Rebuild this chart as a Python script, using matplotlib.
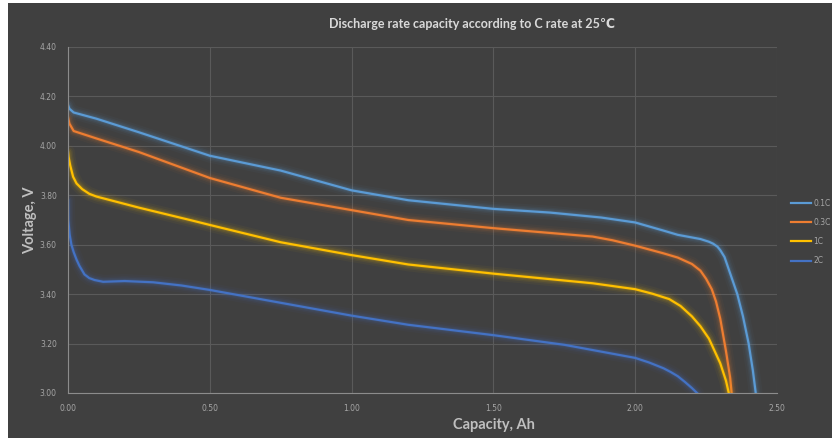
import matplotlib
matplotlib.use("Agg")
import matplotlib.pyplot as plt
from matplotlib.patches import Rectangle

# dados (capacidade Ah, tensao V)
x_01c = [0, 0.005, 0.02, 0.1, 0.25, 0.5, 0.75, 1.0, 1.2, 1.5, 1.7, 1.88, 2.0,
         2.1, 2.15, 2.23, 2.26, 2.275, 2.29, 2.30, 2.315, 2.33, 2.345, 2.36,
         2.38, 2.40, 2.415, 2.425]
v_01c = [4.165, 4.15, 4.135, 4.11, 4.055, 3.96, 3.90, 3.82, 3.78, 3.745, 3.73,
         3.71, 3.69, 3.657, 3.64, 3.623, 3.612, 3.604, 3.592, 3.578, 3.55, 3.50,
         3.45, 3.40, 3.31, 3.20, 3.09, 3.00]

x_03c = [0, 0.005, 0.02, 0.1, 0.25, 0.5, 0.75, 1.0, 1.2, 1.5, 1.85, 1.92, 2.0,
         2.1, 2.15, 2.2, 2.23, 2.25, 2.27, 2.285, 2.30, 2.32, 2.335, 2.34]
v_03c = [4.115, 4.09, 4.06, 4.03, 3.975, 3.87, 3.79, 3.74, 3.70, 3.667, 3.633,
         3.618, 3.596, 3.565, 3.548, 3.522, 3.495, 3.462, 3.42, 3.37, 3.30, 3.17,
         3.06, 3.00]

x_1c = [0, 0.002, 0.008, 0.018, 0.03, 0.05, 0.075, 0.1, 0.15, 0.25, 0.43, 0.5,
        0.75, 1.0, 1.2, 1.5, 1.85, 2.0, 2.06, 2.12, 2.16, 2.2, 2.23, 2.26, 2.30,
        2.32, 2.33]
v_1c = [3.975, 3.955, 3.92, 3.875, 3.848, 3.825, 3.806, 3.795, 3.78, 3.75, 3.70,
        3.68, 3.61, 3.558, 3.52, 3.483, 3.444, 3.42, 3.402, 3.38, 3.352, 3.31,
        3.27, 3.22, 3.12, 3.05, 3.00]

x_2c = [0, 0.001, 0.006, 0.012, 0.02, 0.03, 0.04, 0.058, 0.075, 0.094, 0.124,
        0.2, 0.3, 0.4, 0.5, 0.75, 1.0, 1.2, 1.5, 1.75, 2.0, 2.05, 2.1, 2.125,
        2.15, 2.175, 2.2, 2.218]
v_2c = [3.78, 3.70, 3.64, 3.60, 3.57, 3.54, 3.515, 3.48, 3.465, 3.457, 3.45,
        3.453, 3.448, 3.435, 3.417, 3.365, 3.313, 3.276, 3.234, 3.195, 3.142,
        3.123, 3.10, 3.085, 3.068, 3.045, 3.02, 3.00]

series = [
    ("0.1C", x_01c, v_01c, "#5B9BD5"),
    ("0.3C", x_03c, v_03c, "#ED7D31"),
    ("1C", x_1c, v_1c, "#FFC000"),
    ("2C", x_2c, v_2c, "#4472C4"),
]

FUNDO = "#404040"
TXT = "#A6A6A6"

fig = plt.figure(figsize=(8.32, 4.38), dpi=100)
fig.patch.set_facecolor("white")
fig.patches.append(Rectangle((8 / 832, 0), 1, 1 - 3 / 438, transform=fig.transFigure,
                             facecolor=FUNDO, edgecolor="none", zorder=-10))

ax = fig.add_axes([68 / 832, 1 - 393 / 438, 709 / 832, 346 / 438])
ax.set_facecolor(FUNDO)

handles = []
for nome, xs, vs, cor in series:
    # brilho em volta da linha
    for lw, a in [(10, 0.04), (7, 0.06), (5, 0.09), (3, 0.15)]:
        ax.plot(xs, vs, color=cor, lw=lw, alpha=a, solid_capstyle="round",
                solid_joinstyle="round")
    h, = ax.plot(xs, vs, color=cor, lw=1.6, label=nome, solid_joinstyle="round")
    handles.append(h)

ax.set_xlim(0, 2.5)
ax.set_ylim(3.0, 4.4)
ax.set_xticks([0, 0.5, 1.0, 1.5, 2.0, 2.5])
ax.set_yticks([3.0, 3.2, 3.4, 3.6, 3.8, 4.0, 4.2, 4.4])
ax.xaxis.set_major_formatter(matplotlib.ticker.FormatStrFormatter("%.2f"))
ax.yaxis.set_major_formatter(matplotlib.ticker.FormatStrFormatter("%.2f"))
ax.tick_params(colors=TXT, labelsize=5.5, length=0, pad=8)
ax.grid(True, color="#5A5A5A", linewidth=0.8)
ax.set_axisbelow(True)
for s in ("top", "right"):
    ax.spines[s].set_visible(False)
for s in ("left", "bottom"):
    ax.spines[s].set_color("#8C8C8C")
    ax.spines[s].set_linewidth(0.8)

fig.text(472 / 832, 1 - 24 / 438, "Discharge rate capacity according to C rate at 25℃",
         ha="center", va="center", fontsize=9, fontweight="bold", color="#D9D9D9",
         family=["Lato", "DejaVu Sans"])
fig.text(494 / 832, 1 - 425 / 438, "Capacity, Ah", ha="center", va="center",
         fontsize=10.5, fontweight="bold", color="#BFBFBF", family=["Lato", "DejaVu Sans"])
fig.text(30 / 832, 1 - 220 / 438, "Voltage, V", ha="center", va="center", rotation=90,
         fontsize=10.5, fontweight="bold", color="#BFBFBF", family=["Lato", "DejaVu Sans"])

leg = fig.legend(handles=handles, loc="center left",
                 bbox_to_anchor=(784 / 832, 1 - 232 / 438), frameon=False,
                 fontsize=5.5, handlelength=2.6, handletextpad=0.3,
                 labelspacing=1.35, labelcolor=TXT)

plt.savefig("out.png", dpi=100, facecolor=fig.get_facecolor())
